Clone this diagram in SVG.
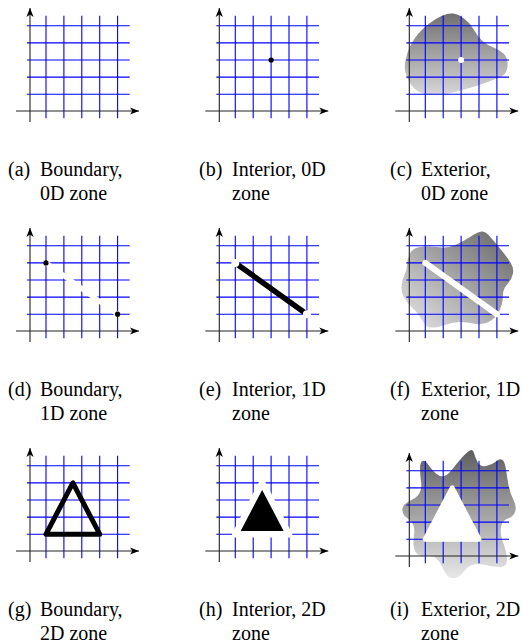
<svg xmlns="http://www.w3.org/2000/svg" xmlns:xlink="http://www.w3.org/1999/xlink" width="522" height="643" viewBox="0 0 522 643">
<style>
.grid path{fill:none;stroke:#0000ff;stroke-width:1.1}
.axis{fill:none;stroke:#222;stroke-width:1.1}
.cap{font-family:"Liberation Serif","Times New Roman",serif;font-size:20px;fill:#000}
</style>
<defs>
<marker id="arrow" viewBox="-10 -5 11 10" refX="0" refY="0" markerWidth="11" markerHeight="10" markerUnits="userSpaceOnUse" orient="auto">
<path d="M0,0 L-9,-3.6 L-6.6,0 L-9,3.6 Z" fill="#000"/>
</marker>
<g id="grid" class="grid">
<path d="M16,7.3V-95.3M33.9,7.3V-95.3M51.8,7.3V-95.3M69.7,7.3V-95.3M87.6,7.3V-95.3"/>
<path d="M-3,-16.8H99.7M-3,-33.9H99.7M-3,-51H99.7M-3,-68.1H99.7M-3,-85.2H99.7"/>
</g>
<g id="axes">
<path class="axis" d="M-14,0H109" marker-end="url(#arrow)"/>
<path class="axis" d="M0,11V-103" marker-end="url(#arrow)"/>
</g>
<linearGradient id="gradC" x1="0" y1="0" x2="0" y2="1"><stop offset="0" stop-color="#707070"/><stop offset="1" stop-color="#d6d6d6"/></linearGradient>
<linearGradient id="gradF" x1="1" y1="0" x2="0" y2="1"><stop offset="0" stop-color="#646464"/><stop offset="1" stop-color="#e6e6e6"/></linearGradient>
<linearGradient id="gradI" x1="0" y1="0" x2="0" y2="1"><stop offset="0" stop-color="#5e5e5e"/><stop offset="1" stop-color="#e8e8e8"/></linearGradient>
</defs>
<rect width="522" height="643" fill="#fff"/>

<g id="panel-a">
<g transform="translate(30,111)"><use xlink:href="#grid"/><use xlink:href="#axes"/></g>
<text class="cap" x="8" y="176">(a)<tspan x="40">Boundary,</tspan></text>
<text class="cap" x="40" y="200">0D zone</text>
</g>

<g id="panel-b">
<g transform="translate(219.3,111)"><use xlink:href="#grid"/><use xlink:href="#axes"/>
<circle cx="51.8" cy="-51" r="2.6" fill="#000"/></g>
<text class="cap" x="199" y="176">(b)<tspan x="232">Interior, 0D</tspan></text>
<text class="cap" x="232" y="200">zone</text>
</g>

<g id="panel-c">
<path fill="url(#gradC)" d="M442.5,15.5 Q448,13 453,13.5 Q458,14 464,18.5 Q470,23 474,30 Q478,37 482.5,41 Q487,45 493.5,47.5 Q500,50 503.5,53.5 Q507,57 507.5,62 Q508,67 506.5,71 Q505,75 499,77.5 Q493,80 486.5,82.5 Q480,85 471.5,87.5 Q463,90 455,92 Q447,94 440,94.5 Q433,95 427.5,94.5 Q422,94 417.5,91 Q413,88 410,83 Q407,78 405.5,72.5 Q404,67 405.5,60 Q407,53 410,46.5 Q413,40 418,34 Q423,28 430,23 Q437,18 442.5,15.5 Z"/>
<g transform="translate(409.3,111)"><use xlink:href="#grid"/><use xlink:href="#axes"/>
<circle cx="51.8" cy="-51" r="3" fill="#fff"/></g>
<text class="cap" x="390" y="176">(c)<tspan x="421">Exterior,</tspan></text>
<text class="cap" x="421" y="200">0D zone</text>
</g>

<g id="panel-d">
<g transform="translate(30,331)"><use xlink:href="#grid"/><use xlink:href="#axes"/>
<path d="M16,-68.1L87.6,-16.8" stroke="#fff" stroke-width="5" fill="none"/>
<circle cx="16" cy="-68.1" r="2.6" fill="#000"/>
<circle cx="87.6" cy="-16.8" r="2.6" fill="#000"/></g>
<text class="cap" x="8" y="396">(d)<tspan x="40">Boundary,</tspan></text>
<text class="cap" x="40" y="420">1D zone</text>
</g>

<g id="panel-e">
<g transform="translate(219.3,331)"><use xlink:href="#grid"/><use xlink:href="#axes"/>
<path d="M16,-68.1L87.6,-16.8" stroke="#000" stroke-width="5.5" fill="none"/>
<circle cx="16" cy="-68.1" r="4" fill="#fff"/>
<circle cx="87.6" cy="-16.8" r="4" fill="#fff"/></g>
<text class="cap" x="199" y="396">(e)<tspan x="232">Interior, 1D</tspan></text>
<text class="cap" x="232" y="420">zone</text>
</g>

<g id="panel-f">
<path fill="url(#gradF)" d="M474,234.5 Q478,232 481.5,231.5 Q485,231 489,235.5 Q493,240 500,248.5 Q507,257 510.5,262.5 Q514,268 513,273.5 Q512,279 507.5,284 Q503,289 503,294.5 Q503,300 501.5,305.5 Q500,311 496,316 Q492,321 486,323 Q480,325 473.5,323.5 Q467,322 460,322 Q453,322 446.5,324.5 Q440,327 434,327.5 Q428,328 425.5,325 Q423,322 420,317 Q417,312 412,307.5 Q407,303 404,297.5 Q401,292 401.5,286 Q402,280 404.5,275 Q407,270 407,265 Q407,260 409.5,254.5 Q412,249 417.5,247.5 Q423,246 430,246.5 Q437,247 442.5,247.5 Q448,248 454,245.5 Q460,243 465,240 Q470,237 474,234.5 Z"/>
<g transform="translate(409.3,331)"><use xlink:href="#grid"/><use xlink:href="#axes"/>
<path d="M16,-68.1L87.6,-16.8" stroke="#fff" stroke-width="6" stroke-linecap="round" fill="none"/></g>
<text class="cap" x="390" y="396">(f)<tspan x="421">Exterior, 1D</tspan></text>
<text class="cap" x="421" y="420">zone</text>
</g>

<g id="panel-g">
<g transform="translate(30,551)"><use xlink:href="#grid"/><use xlink:href="#axes"/>
<path d="M16,-16.8L69.7,-16.8L42.85,-68.1Z" fill="none" stroke="#000" stroke-width="5" stroke-linejoin="round"/></g>
<text class="cap" x="8" y="616">(g)<tspan x="40">Boundary,</tspan></text>
<text class="cap" x="40" y="640">2D zone</text>
</g>

<g id="panel-h">
<g transform="translate(219.3,551)"><use xlink:href="#grid"/><use xlink:href="#axes"/>
<path d="M16,-16.8L69.7,-16.8L42.85,-68.1Z" fill="#000" stroke="#fff" stroke-width="6.5" stroke-linejoin="round"/></g>
<text class="cap" x="199" y="616">(h)<tspan x="232">Interior, 2D</tspan></text>
<text class="cap" x="232" y="640">zone</text>
</g>

<g id="panel-i">
<path fill="url(#gradI)" d="M420,468.5 Q420,462 422.5,461 Q425,460 428.5,465 Q432,470 436,473.5 Q440,477 444,476 Q448,475 452.5,469 Q457,463 462,457.5 Q467,452 470,450.5 Q473,449 474,453 Q475,457 477.5,462 Q480,467 486,466 Q492,465 496,461.5 Q500,458 502.5,460 Q505,462 506,469.5 Q507,477 508.5,485 Q510,493 513.5,500 Q517,507 515,512 Q513,517 508,518.5 Q503,520 501.5,525 Q500,530 501,535 Q502,540 504.5,546.5 Q507,553 507,560 Q507,567 500,567 Q493,567 485,565 Q477,563 472,565 Q467,567 463.5,572 Q460,577 455,578 Q450,579 447.5,576 Q445,573 442.5,567.5 Q440,562 436.5,558.5 Q433,555 428,556 Q423,557 419,555 Q415,553 414,548 Q413,543 414,535 Q415,527 412.5,523.5 Q410,520 406.5,517.5 Q403,515 402.5,511 Q402,507 404.5,504.5 Q407,502 412.5,499.5 Q418,497 420,492 Q422,487 421,481 Q420,475 420,468.5 Z"/>
<g transform="translate(409.3,556)"><use xlink:href="#grid"/><use xlink:href="#axes"/>
<path d="M16,-16.8L69.7,-16.8L42.85,-68.1Z" fill="#fff" stroke="#fff" stroke-width="5" stroke-linejoin="round"/></g>
<text class="cap" x="390" y="616">(i)<tspan x="421">Exterior, 2D</tspan></text>
<text class="cap" x="421" y="640">zone</text>
</g>
</svg>
